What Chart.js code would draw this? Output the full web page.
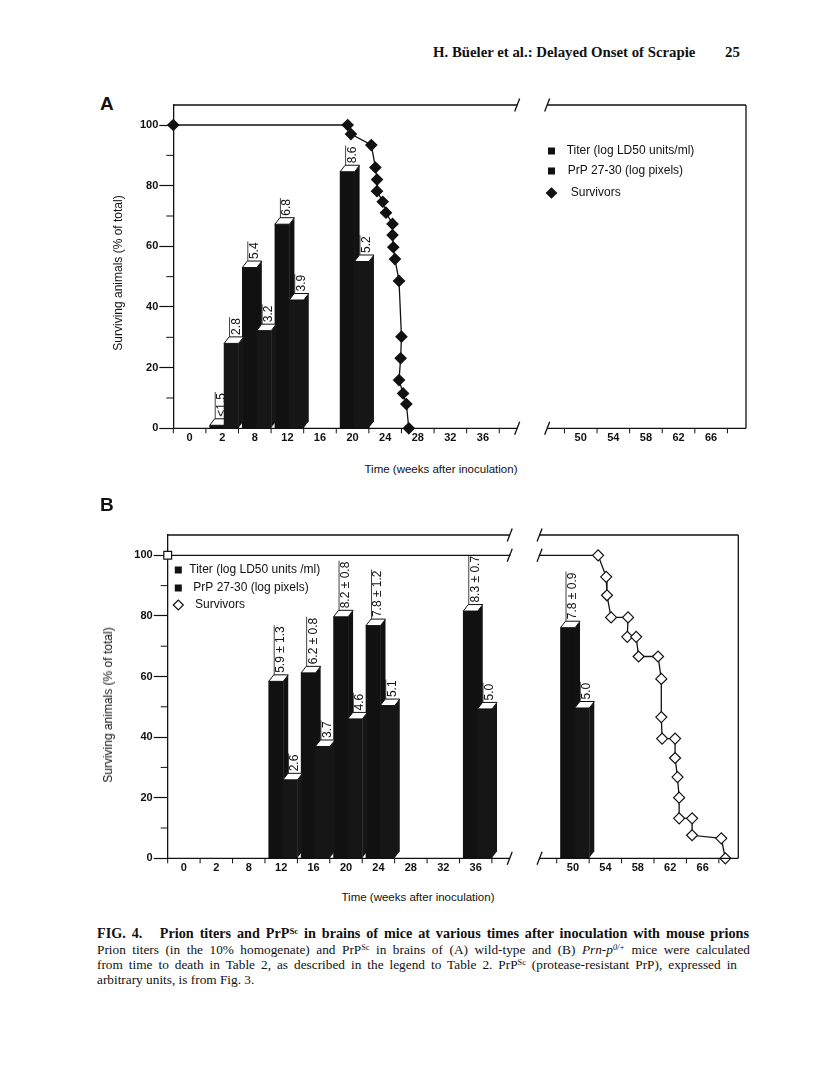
<!DOCTYPE html>
<html>
<head>
<meta charset="utf-8">
<script src="https://cdn.jsdelivr.net/npm/chart.js@4.4.1/dist/chart.umd.min.js"></script>
<style>
  body { margin: 0; background: #fff; }
  #page { position: relative; width: 816px; height: 1088px; overflow: hidden; color: #111;
          font-family: "Liberation Sans", Arial, Helvetica, sans-serif; }
  .abs { position: absolute; white-space: nowrap; }
  canvas { position: absolute; }
  .serif { font-family: "Liberation Serif", "Times New Roman", serif; }
  .head { font-weight: bold; font-size: 14.8px; line-height: 15px; }
  .letter { font-weight: bold; font-size: 19px; line-height: 19px; }
  .ytitle { font-size: 12px; transform: translate(-50%, -50%) rotate(-90deg); }
  .xtitle { font-size: 11.5px; transform: translate(-50%, -50%); }
  .cap { font-size: 13.3px; line-height: 15px; left: 97px; }
  .just { text-align: justify; text-align-last: justify; }
  sup { font-size: 0.62em; vertical-align: 0.5em; line-height: 0; }
</style>
</head>
<body>
<div id="page">
  <div class="abs serif head" style="left:433px; top:45px;">H. Büeler et al.: Delayed Onset of Scrapie</div>
  <div class="abs serif head" style="left:725px; top:45px;">25</div>

  <div class="abs letter" style="left:100px; top:94px;">A</div>
  <canvas id="chartA" width="660" height="370" style="left:100px; top:90px;"></canvas>
  <div class="abs ytitle" style="left:118px; top:273px;">Surviving animals (% of total)</div>
  <div class="abs xtitle" style="left:441px; top:469px;">Time (weeks after inoculation)</div>

  <div class="abs letter" style="left:100px; top:495px;">B</div>
  <canvas id="chartB" width="660" height="370" style="left:100px; top:520px;"></canvas>
  <div class="abs ytitle" style="left:108px; top:705px;">Surviving animals (% of total)</div>
  <div class="abs xtitle" style="left:418px; top:897px;">Time (weeks after inoculation)</div>

  <div class="abs serif cap just" style="top:926px; width:652px; font-weight:bold; font-size:14.2px;">FIG. 4.&nbsp;&nbsp; Prion titers and PrP<sup>Sc</sup> in brains of mice at various times after inoculation with mouse prions</div>
  <div class="abs serif cap just" style="top:942px; width:653px;">Prion titers (in the 10% homogenate) and PrP<sup>Sc</sup> in brains of (A) wild-type and (B) <i>Prn-p</i><sup><i>0/+</i></sup> mice were calculated</div>
  <div class="abs serif cap just" style="top:957px; width:640px;">from time to death in Table 2, as described in the legend to Table 2. PrP<sup>Sc</sup> (protease-resistant PrP), expressed in</div>
  <div class="abs serif cap" style="top:972px;">arbitrary units, is from Fig. 3.</div>
</div>

<script>
// tick labels of the broken time axis (weeks after inoculation)
const weeksLeft = ['0', '2', '8', '12', '16', '20', '24', '28', '32', '36'];
const weeksRight = ['50', '54', '58', '62', '66'];

// Panel A - wild-type mice. Bar heights are read on the % axis, the printed value goes above.
const titerWeeksA = ['2', '8', '12', '20'];
const titerA = [1, 53, 67.3, 84.6];
const titerTextA = ['<1.5', '5.4', '6.8', '8.6'];
const prpWeeksA = ['2', '8', '12', '20'];
const prpA = [28, 32.2, 42.3, 55];
const prpTextA = ['2.8', '3.2', '3.9', '5.2'];
const survWeeksA = [0, 19.4, 19.8, 22.3, 22.8, 23.0, 23.0, 23.7, 24.1, 24.9, 24.9, 25.0, 25.2, 25.7, 26.0, 25.9, 25.7, 26.2, 26.6, 26.9];
const survA = [100, 100, 97, 93.4, 86, 82, 78.2, 74.7, 71.1, 67.4, 63.7, 59.7, 55.8, 48.6, 30.2, 23.1, 15.9, 11.5, 8, 0];

// Panel B - Prn-p 0/+ mice
const titerWeeksB = ['12', '16', '20', '24', '36', '50'];
const titerB = [58.4, 61.2, 79.7, 76.8, 81.6, 76.1];
const titerTextB = ['5.9 ± 1.3', '6.2 ± 0.8', '8.2 ± 0.8', '7.8 ± 1.2', '8.3 ± 0.7', '7.8 ± 0.9'];
const prpWeeksB = ['12', '16', '20', '24', '36', '50'];
const prpB = [25.9, 36.9, 46.0, 50.4, 49.3, 49.6];
const prpTextB = ['2.6', '3.7', '4.6', '5.1', '5.0', '5.0'];
const survWeeksB = [0, 53.1, 54.1, 54.2, 54.7, 56.8, 56.7, 57.8, 58.1, 60.5, 60.9, 60.9, 61.0, 62.6, 62.6, 62.9, 63.1, 63.1, 64.7, 64.7, 68.3, 68.8];
const survB = [100, 100, 92.9, 86.8, 79.5, 79.5, 73.1, 73.1, 66.6, 66.6, 59.2, 46.6, 39.5, 39.5, 33.1, 26.8, 20.0, 13.2, 13.2, 7.6, 6.6, 0];

// x axis works in "slots": one slot per tick label, left part 0..9, right part 12..16
const X_MIN = -0.5;
const GAP = [10.05, 10.97];
const TITER_SHIFT = -0.16, PRP_SHIFT = 0.28;
const DX = 5, DY = 6.5;   // depth of the 3-D bars

const tickText = {};
weeksLeft.forEach((w, i) => { tickText[i] = w; });
weeksRight.forEach((w, i) => { tickText[12 + i] = w; });
const tickSlots = Object.keys(tickText).map(Number);

function slotOf(label) {
  const i = weeksLeft.indexOf(label);
  return i >= 0 ? i : 12 + weeksRight.indexOf(label);
}
function weekToSlot(w) {
  if (w <= 0) return X_MIN;            // the survival curves start on the y axis
  return w < 44 ? w / 4 : 12 + (w - 50) / 4;
}

Chart.defaults.font.family = '"Liberation Sans", Arial, Helvetica, sans-serif';
Chart.defaults.color = '#111';

function slash(ctx, x, y) {
  ctx.beginPath();
  ctx.moveTo(x - 2.5, y + 6.5);
  ctx.lineTo(x + 2.5, y - 6.5);
  ctx.stroke();
}

// 3-D bar faces, value labels, broken axis frame and the legend
const paperPlugin = {
  id: 'paper',
  afterDatasetDraw(chart, args) {
    const meta = args.meta;
    if (meta.type !== 'bar') return;
    const ds = chart.data.datasets[args.index];
    const ctx = chart.ctx;
    meta.data.forEach((bar, i) => {
      const p = bar.getProps(['x', 'y', 'base', 'width'], true);
      const l = p.x - p.width / 2, r = p.x + p.width / 2, y = p.y;
      ctx.save();
      ctx.fillStyle = ds.backgroundColor;
      ctx.beginPath();
      ctx.moveTo(r, y);
      ctx.lineTo(r + DX, y - DY);
      ctx.lineTo(r + DX, p.base - DY);
      ctx.lineTo(r, p.base);
      ctx.closePath();
      ctx.fill();

      ctx.fillStyle = '#fff';
      ctx.strokeStyle = '#111';
      ctx.lineWidth = 1;
      ctx.beginPath();
      ctx.moveTo(l, y);
      ctx.lineTo(l + DX, y - DY);
      ctx.lineTo(r + DX, y - DY);
      ctx.lineTo(r, y);
      ctx.closePath();
      ctx.fill();
      ctx.stroke();

      const txt = ds.valueText[i];
      ctx.font = '12px "Liberation Sans", Arial, sans-serif';
      const tw = ctx.measureText(txt).width;
      ctx.translate(r + 1, y - DY - 2);
      ctx.rotate(-Math.PI / 2);
      ctx.fillStyle = '#111';
      ctx.textAlign = 'left';
      ctx.textBaseline = 'alphabetic';
      ctx.fillText(txt, 0, 0);
      ctx.lineWidth = 0.8;
      ctx.beginPath();
      ctx.moveTo(-2, -10);
      ctx.lineTo(tw + 1, -10);
      ctx.stroke();
      ctx.restore();
    });
  },
  afterDatasetsDraw(chart, args, opts) {
    const ctx = chart.ctx;
    const xs = chart.scales.x, ys = chart.scales.y;
    const area = chart.chartArea;
    const xL = xs.getPixelForValue(GAP[0]), xR = xs.getPixelForValue(GAP[1]);

    // where a survival line crosses the gap it gets break marks too
    const breaks = [[xL, area.top], [xL, area.bottom], [xR, area.top], [xR, area.bottom]];
    chart.getSortedVisibleDatasetMetas().forEach(meta => {
      if (meta.type !== 'line') return;
      const pts = meta.data;
      for (let i = 0; i + 1 < pts.length; i++) {
        const a = pts[i], b = pts[i + 1];
        if (a.x < xL && b.x > xR) {
          const f = x => a.y + (b.y - a.y) * (x - a.x) / (b.x - a.x);
          breaks.push([xL, f(xL)], [xR, f(xR)]);
        }
      }
    });

    ctx.save();
    ctx.fillStyle = '#fff';
    ctx.fillRect(xL + 0.7, area.top - 10, xR - xL - 1.4, area.bottom - area.top + 20);

    ctx.strokeStyle = '#111';
    ctx.lineWidth = 1.3;
    ctx.beginPath();
    [area.top, area.bottom].forEach(y => {
      ctx.moveTo(area.left, y); ctx.lineTo(xL, y);
      ctx.moveTo(xR, y); ctx.lineTo(area.right, y);
    });
    ctx.moveTo(area.right, area.top); ctx.lineTo(area.right, area.bottom);
    ctx.stroke();
    breaks.forEach(b => slash(ctx, b[0], b[1]));

    // tick marks between the time labels
    ctx.lineWidth = 1;
    ctx.beginPath();
    for (let v = X_MIN; v <= xs.max; v += 1) {
      if (v > GAP[0] && v < GAP[1] + 0.5) continue;
      const px = xs.getPixelForValue(v);
      ctx.moveTo(px, area.bottom); ctx.lineTo(px, area.bottom + 5);
    }
    // short ticks at the odd tens of the % axis
    for (let v = 10; v < 100; v += 20) {
      const py = ys.getPixelForValue(v);
      ctx.moveTo(area.left - 7, py); ctx.lineTo(area.left, py);
    }
    ctx.stroke();

    // legend
    const lg = opts.legend;
    ctx.font = '12px "Liberation Sans", Arial, sans-serif';
    ctx.textAlign = 'left';
    ctx.textBaseline = 'middle';
    chart.data.datasets.forEach((ds, i) => {
      const y = lg.y[i];
      if (ds.type === 'line') {
        ctx.fillStyle = ds.pointBackgroundColor;
        ctx.strokeStyle = '#111';
        ctx.lineWidth = 1.2;
        Chart.helpers.drawPoint(ctx, { pointStyle: 'rectRot', radius: 5, borderWidth: 1.2, rotation: 0 }, lg.x, y);
      } else {
        ctx.fillStyle = '#111';
        ctx.fillRect(lg.x - 3.5, y - 3.5, 7, 7);
      }
      ctx.fillStyle = '#111';
      ctx.fillText(ds.label, lg.textX[i], y);
    });
    ctx.restore();
  }
};

function makePanel(id, p) {
  return new Chart(document.getElementById(id), {
    type: 'bar',
    plugins: [paperPlugin],
    data: {
      datasets: [
        {
          label: p.titerLabel,
          data: p.titerWeeks.map((w, i) => ({ x: slotOf(w) + TITER_SHIFT, y: p.titer[i] })),
          valueText: p.titerText,
          backgroundColor: '#111',
          barThickness: 14.5,
          grouped: false,
          order: 2
        },
        {
          label: 'PrP 27-30 (log pixels)',
          data: p.prpWeeks.map((w, i) => ({ x: slotOf(w) + PRP_SHIFT, y: p.prp[i] })),
          valueText: p.prpText,
          backgroundColor: '#161616',
          barThickness: 14.5,
          grouped: false,
          order: 1
        },
        {
          type: 'line',
          label: 'Survivors',
          data: p.survWeeks.map((w, i) => ({ x: weekToSlot(w), y: p.surv[i] })),
          borderColor: '#111',
          borderWidth: 1.3,
          tension: 0,
          pointStyle: p.pointStyle,
          pointRadius: 5.5,
          pointBackgroundColor: p.markerFill,
          pointBorderColor: '#111',
          pointBorderWidth: 1.2,
          clip: false,
          order: 0
        }
      ]
    },
    options: {
      responsive: false,
      devicePixelRatio: 1,
      animation: false,
      events: [],
      layout: { padding: { left: 0, top: 15, right: p.padRight, bottom: 11.7 } },
      plugins: {
        legend: { display: false },
        tooltip: { enabled: false },
        paper: { legend: p.legend }
      },
      scales: {
        x: {
          type: 'linear',
          min: X_MIN,
          max: p.xMax,
          offset: false,
          afterBuildTicks: s => { s.ticks = tickSlots.map(v => ({ value: v })); },
          afterFit: s => { s.height = 20; },
          grid: { display: false, drawTicks: false },
          border: { display: false },
          ticks: {
            autoSkip: false, maxRotation: 0, padding: 3, color: '#111',
            font: { size: 11, weight: 'bold' },
            callback: v => tickText[v] ?? ''
          }
        },
        y: {
          min: 0,
          max: p.yMax,
          afterFit: s => { s.width = p.yWidth; },
          grid: {
            drawOnChartArea: false, tickLength: 14, tickWidth: 1.2,
            tickColor: c => (c.tick && c.tick.value % 20 === 0) ? '#111' : 'rgba(0,0,0,0)'
          },
          border: { color: '#111', width: 1.3 },
          ticks: {
            stepSize: 10, includeBounds: false, autoSkip: false, padding: 1, color: '#111',
            font: { size: 11, weight: 'bold' },
            callback: v => (v % 20 === 0 ? v : '')
          }
        }
      }
    }
  });
}

makePanel('chartA', {
  titerLabel: 'Titer (log LD50 units/ml)',
  titerWeeks: titerWeeksA, titer: titerA, titerText: titerTextA,
  prpWeeks: prpWeeksA, prp: prpA, prpText: prpTextA,
  survWeeks: survWeeksA, surv: survA,
  pointStyle: 'rectRot', markerFill: '#111',
  yWidth: 73.3, padRight: 14, xMax: 17.07, yMax: 106.6,
  legend: { x: 451.5, y: [61, 81, 103], textX: [466.7, 467.7, 470.7] }
});

makePanel('chartB', {
  titerLabel: 'Titer (log LD50 units /ml)',
  titerWeeks: titerWeeksB, titer: titerB, titerText: titerTextB,
  prpWeeks: prpWeeksB, prp: prpB, prpText: prpTextB,
  survWeeks: survWeeksB, surv: survB,
  pointStyle: ctx => (ctx.dataIndex === 0 ? 'rect' : 'rectRot'), markerFill: '#fff',
  yWidth: 67.7, padRight: 21.7, xMax: 17.1, yMax: 106.7,
  legend: { x: 78.3, y: [50, 68, 85], textX: [89.3, 93.3, 95] }
});
</script>
</body>
</html>
